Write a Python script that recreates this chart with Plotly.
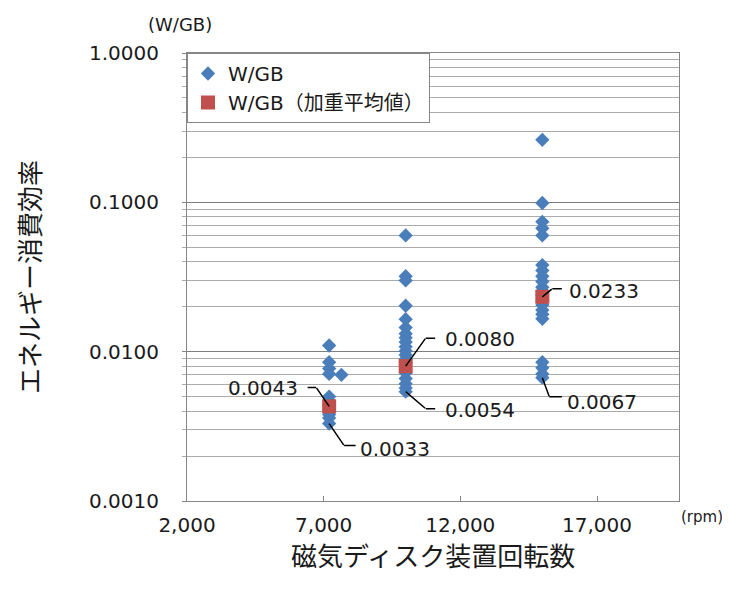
import math
import plotly.graph_objects as go

# ---------------- data ----------------
rpm_7200 = 7200
w_7200 = [0.0110, 0.0085, 0.0077, 0.0071, 0.0050, 0.0047, 0.0044, 0.0041, 0.0038, 0.0036, 0.0033]
rpm_7650 = 7650
w_7650 = [0.0070]
rpm_10000 = 10000
w_10000 = [0.060, 0.032, 0.030, 0.0203, 0.0165, 0.0145, 0.0132, 0.0124, 0.0116, 0.0108,
           0.0101, 0.0095, 0.0089, 0.0084, 0.0072, 0.0066, 0.0061, 0.0057, 0.0054]
rpm_15000 = 15000
w_15000 = [0.262, 0.099, 0.074, 0.067, 0.060, 0.038, 0.035, 0.032, 0.0295, 0.027, 0.0255,
           0.024, 0.022, 0.0205, 0.019, 0.0178, 0.0166, 0.0085, 0.0078, 0.0071, 0.0067]

avg_rpm = [7200, 10000, 15000]
avg_w = [0.0043, 0.0080, 0.0233]
min_w = [0.0033, 0.0054, 0.0067]

x_tick_vals = [2000, 7000, 12000, 17000]
x_tick_text = ["2,000", "7,000", "12,000", "17,000"]
y_tick_vals = [0.001, 0.01, 0.1, 1]
y_tick_text = ["0.0010", "0.0100", "0.1000", "1.0000"]

series_name = "W/GB"
avg_name = "W/GB（加重平均値）"
x_title = "磁気ディスク装置回転数"
y_title = "エネルギー消費効率"
y_unit = "(W/GB)"
x_unit = "(rpm)"

# ---------------- build ----------------
groups = [(rpm_7200, w_7200), (rpm_7650, w_7650), (rpm_10000, w_10000), (rpm_15000, w_15000)]
blue_x, blue_y = [], []
for r, ws in groups:
    blue_x += [r] * len(ws)
    blue_y += ws

FONT = "DejaVu Sans, Verdana, Noto Sans CJK JP, sans-serif"
CJK = "Noto Sans CJK JP, sans-serif"
TXT = "#1a1a1a"

fig = go.Figure()
fig.add_trace(go.Scatter(x=blue_x, y=blue_y, mode="markers", name=series_name,
                         marker=dict(symbol="diamond", size=11, color="#4a7ebb", line=dict(width=0))))
fig.add_trace(go.Scatter(x=avg_rpm, y=avg_w, mode="markers", name=avg_name,
                         marker=dict(symbol="square", size=14, color="#c0504d", line=dict(width=0))))

# label geometry: (diag dx, diag dy, horizontal len, text dx, text dy, anchor) in screen px (dy down)
avg_geom = [(-13, -19, -9, -29, -18, "right"), (20, -28, 10, 37, -27, "left"), (10, -8, 10, 25, -6, "left")]
min_geom = [(15, 22, 12, 29, 25, "left"), (20, 17, 10, 37, 18, "left"), (7, 19, 13, 23, 24, "left")]

annotations = []
def add_label(xv, v, geom):
    ddx, ddy, hl, tdx, tdy, anc = geom
    ly = math.log10(v)
    annotations.append(dict(x=xv, y=ly, xref="x", yref="y", text="", showarrow=True,
                            arrowhead=0, arrowwidth=1.5, arrowcolor="#000", ax=ddx, ay=ddy,
                            standoff=0, startstandoff=0, font=dict(size=1), borderpad=0))
    annotations.append(dict(x=xv, y=ly, xref="x", yref="y", text="", showarrow=True,
                            xshift=ddx, yshift=-ddy,
                            arrowhead=0, arrowwidth=1.5, arrowcolor="#000", ax=hl, ay=0,
                            standoff=0, startstandoff=0, font=dict(size=1), borderpad=0))
    annotations.append(dict(x=xv, y=ly, xref="x", yref="y", text=f"{v:.4f}", showarrow=False,
                            xshift=tdx, yshift=-tdy, xanchor=anc, yanchor="middle",
                            font=dict(family=FONT, size=20, color=TXT)))

for xv, v, g in zip(avg_rpm, avg_w, avg_geom):
    add_label(xv, v, g)
for xv, v, g in zip(avg_rpm, min_w, min_geom):
    add_label(xv, v, g)

annotations += [
    dict(text=x_title, xref="paper", yref="paper", x=0.5, y=0, yshift=-53, showarrow=False,
         xanchor="center", yanchor="middle", font=dict(family=CJK, size=26, color=TXT)),
    dict(text=y_title, xref="paper", yref="paper", x=0, y=0.5, xshift=-159, showarrow=False,
         textangle=-90, xanchor="center", yanchor="middle", font=dict(family=CJK, size=26, color=TXT)),
    dict(text=y_unit, xref="paper", yref="paper", x=0, y=1, xshift=-7, yshift=29, showarrow=False,
         xanchor="center", yanchor="middle", font=dict(family=FONT, size=18, color=TXT)),
    dict(text=x_unit, xref="paper", yref="paper", x=1, y=0, xshift=23, yshift=-16, showarrow=False,
         xanchor="center", yanchor="middle", font=dict(family=FONT, size=15, color=TXT)),
]

minor_vals = [k * 10.0 ** e for e in (-3, -2, -1) for k in range(2, 10)]

# page body has an 8px default margin; margins below compensate so the plot
# area sits at x 187..679, y 53..501 of the window
fig.update_layout(
    width=730, height=589,
    margin=dict(l=179, r=59, t=45, b=96),
    paper_bgcolor="white", plot_bgcolor="white",
    showlegend=True,
    legend=dict(x=0, y=1, xanchor="left", yanchor="top", bgcolor="white",
                bordercolor="#868686", borderwidth=1,
                font=dict(family=FONT, size=20, color=TXT)),
    annotations=annotations,
    xaxis=dict(range=[2000, 20000], tickvals=x_tick_vals, ticktext=x_tick_text,
               ticks="inside", ticklen=5, tickcolor="#868686", showgrid=False, zeroline=False,
               showline=True, linecolor="#868686", linewidth=1, mirror=True,
               tickfont=dict(family=FONT, size=20, color=TXT), ticklabelstandoff=6),
    yaxis=dict(type="log", range=[-3, 0], tickvals=y_tick_vals, ticktext=y_tick_text,
               ticks="outside", ticklen=4, tickcolor="#868686",
               showgrid=True, gridcolor="#7f7f7f", gridwidth=1.3, zeroline=False,
               showline=True, linecolor="#868686", linewidth=1, mirror=True,
               tickfont=dict(family=FONT, size=20, color=TXT), ticklabelstandoff=19,
               minor=dict(tickvals=minor_vals, showgrid=True, gridcolor="#ababab", gridwidth=1,
                          ticks="outside", ticklen=4, tickcolor="#ababab")),
)

fig.write_html("out.html")
